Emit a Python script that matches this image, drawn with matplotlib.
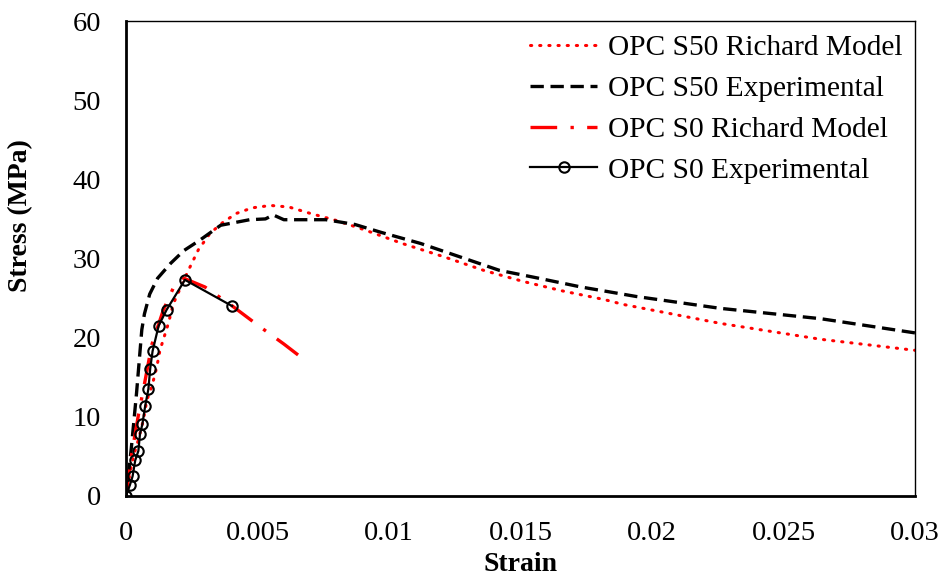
import matplotlib
matplotlib.use("Agg")
import matplotlib.pyplot as plt

plt.rcParams['font.family'] = ['Liberation Serif', 'DejaVu Serif']

# OPC S50 Richard model
s50_model_strain = [0, 0.00015, 0.00028, 0.00047, 0.00066, 0.00079, 0.00098, 0.00117, 0.00129,
                    0.00161, 0.0018, 0.00237, 0.00275, 0.0032, 0.0037, 0.0042, 0.0048, 0.0055,
                    0.0062, 0.007, 0.008, 0.009, 0.0105, 0.0121, 0.0136, 0.0151, 0.0166,
                    0.0182, 0.0189, 0.0226, 0.0264, 0.030]
s50_model_stress = [0, 2.9, 5.0, 7.1, 9.6, 12.1, 13.8, 16.3, 18.4,
                    21.8, 24.3, 28.5, 31.1, 33.2, 34.6, 35.7, 36.4, 36.7,
                    36.5, 35.7, 34.8, 33.7, 31.9, 30.2, 28.5, 27.1, 25.9,
                    24.8, 24.2, 21.8, 19.8, 18.4]

# OPC S50 experimental
s50_exp_strain = [0, 0.0001, 0.0002, 0.0003, 0.0004, 0.0005, 0.0006, 0.0007, 0.0009,
                  0.0012, 0.0017, 0.0022, 0.0028, 0.0036, 0.0047, 0.0053, 0.0056, 0.006,
                  0.0076, 0.0087, 0.0097, 0.0112, 0.0127, 0.0142, 0.0157, 0.0173,
                  0.0194, 0.0226, 0.0264, 0.030]
s50_exp_stress = [0, 3.0, 6.0, 9.5, 13.0, 17.0, 21.0, 23.0, 25.5,
                  27.5, 29.4, 31.0, 32.3, 34.2, 34.9, 35.0, 35.5, 34.9,
                  34.9, 34.3, 33.3, 31.9, 30.2, 28.5, 27.5, 26.4,
                  25.2, 23.7, 22.4, 20.6]

# OPC S0 Richard model
s0_model_strain = [0, 0.0001, 0.00022, 0.00047, 0.00072, 0.00098, 0.00142, 0.0018, 0.0022,
                   0.003, 0.004, 0.005, 0.006, 0.0069]
s0_model_stress = [0, 2.6, 5.4, 10.2, 14.5, 19.1, 23.5, 26.3, 27.5,
                   26.4, 24.1, 21.6, 19.2, 16.9]

# OPC S0 experimental
s0_exp_strain = [0, 0.00015, 0.00025, 0.00035, 0.00047, 0.00053, 0.00062, 0.00073, 0.00085,
                 0.00092, 0.00101, 0.00124, 0.00154, 0.00224, 0.00403]
s0_exp_stress = [0, 1.4, 2.5, 4.5, 5.7, 7.8, 9.05, 11.4, 13.5,
                 16.1, 18.3, 21.5, 23.5, 27.3, 24.0]

fig = plt.figure(figsize=(9.44, 5.79), dpi=100)
ax = fig.add_axes([0.1335, 0.1434, 0.8358, 0.8203])

ax.plot(s50_model_strain, s50_model_stress, color='red', lw=2.2, linestyle=(0, (0.4, 2.6)),
        dash_capstyle='round', label='OPC S50 Richard Model')
ax.plot(s50_exp_strain, s50_exp_stress, color='black', lw=2.4, linestyle=(0, (4, 2)),
        label='OPC S50 Experimental')
ax.plot(s0_model_strain, s0_model_stress, color='red', lw=2.4, linestyle=(0, (8, 4, 1, 4)),
        label='OPC S0 Richard Model')
ax.plot(s0_exp_strain, s0_exp_stress, color='black', lw=1.6, marker='o', markersize=7.5,
        markerfacecolor='none', markeredgewidth=1.5, label='OPC S0 Experimental')

ax.set_xlim(0, 0.03)
ax.set_ylim(0, 60)
ax.set_xticks([0, 0.005, 0.01, 0.015, 0.02, 0.025, 0.03])
ax.set_xticklabels(['0', '0.005', '0.01', '0.015', '0.02', '0.025', '0.03'])
ax.set_yticks(range(0, 61, 10))
ax.tick_params(length=0, labelsize=20.5)
ax.tick_params(axis='x', pad=18)
ax.tick_params(axis='y', pad=18)

for side in ['left', 'bottom']:
    ax.spines[side].set_linewidth(2.0)
for side in ['top', 'right']:
    ax.spines[side].set_linewidth(1.0)

ax.set_xlabel('Strain', fontsize=20, fontweight='bold')
ax.set_ylabel('Stress (MPa)', fontsize=20, fontweight='bold')
ax.xaxis.set_label_coords(0.5, -0.118)
ax.yaxis.set_label_coords(-0.118, 0.59)

ax.legend(loc='upper right', frameon=False, fontsize=21.2, handlelength=2.28,
          labelspacing=0.48, handletextpad=0.37, borderaxespad=0.15,
          bbox_to_anchor=(1.005, 1.005))

fig.savefig('out.png', dpi=100)
